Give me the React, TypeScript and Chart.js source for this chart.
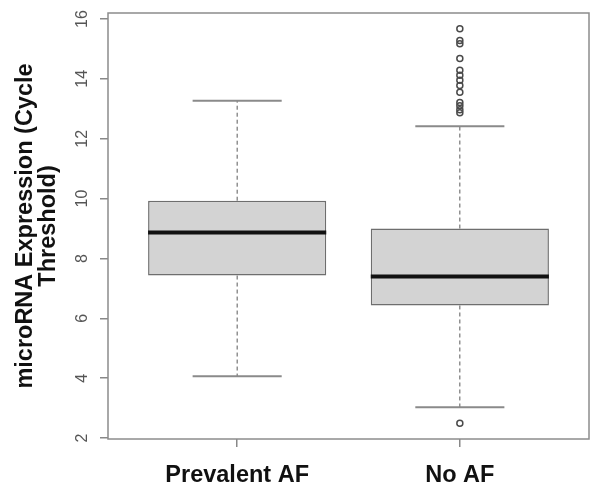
import React, { useEffect, useRef } from "react";
import { Chart, registerables } from "chart.js";

Chart.register(...registerables);

// ---- data ----
const categories = ["Prevalent AF", "No AF"];
const q1 = [7.43, 6.43];
const medians = [8.87, 7.4];
const q3 = [9.93, 9.0];
const whiskerLow = [4.07, 3.03];
const whiskerHigh = [13.27, 12.42];
const outliersPrevalent: number[] = [];
const outliersNoAF = [15.67, 15.28, 15.17, 14.68, 14.29, 14.12, 13.95, 13.78, 13.55, 13.21, 13.1, 12.97, 12.87, 2.5];
const yTicks = [2, 4, 6, 8, 10, 12, 14, 16];
const yTitle = ["microRNA Expression (Cycle", "Threshold)"];

const FONT = "'Liberation Sans', Arial, Helvetica, sans-serif";

const boxPlugin = {
  id: "boxExtras",
  beforeDatasetsDraw(chart: any) {
    const { ctx, scales } = chart;
    const y = scales.y;
    const meta = chart.getDatasetMeta(0);
    ctx.save();
    categories.forEach((_, i) => {
      const bar: any = meta.data[i];
      const cx = bar.x;
      const w = bar.width;
      ctx.strokeStyle = "#5a5a5a";
      ctx.lineWidth = 1;
      ctx.setLineDash([4, 3]);
      ctx.beginPath();
      ctx.moveTo(cx, y.getPixelForValue(q3[i]));
      ctx.lineTo(cx, y.getPixelForValue(whiskerHigh[i]));
      ctx.moveTo(cx, y.getPixelForValue(q1[i]));
      ctx.lineTo(cx, y.getPixelForValue(whiskerLow[i]));
      ctx.stroke();
      ctx.setLineDash([]);
      ctx.strokeStyle = "#8a8a8a";
      ctx.lineWidth = 2;
      ctx.beginPath();
      const hy = y.getPixelForValue(whiskerHigh[i]);
      const ly = y.getPixelForValue(whiskerLow[i]);
      ctx.moveTo(cx - w / 4, hy);
      ctx.lineTo(cx + w / 4, hy);
      ctx.moveTo(cx - w / 4, ly);
      ctx.lineTo(cx + w / 4, ly);
      ctx.stroke();
    });
    ctx.restore();
  },
  afterDatasetsDraw(chart: any) {
    const { ctx, scales, chartArea } = chart;
    const y = scales.y;
    const meta = chart.getDatasetMeta(0);
    ctx.save();
    categories.forEach((_, i) => {
      const bar: any = meta.data[i];
      const my = y.getPixelForValue(medians[i]);
      ctx.strokeStyle = "#111";
      ctx.lineWidth = 4;
      ctx.beginPath();
      ctx.moveTo(bar.x - bar.width / 2, my);
      ctx.lineTo(bar.x + bar.width / 2, my);
      ctx.stroke();
    });
    // frame
    ctx.strokeStyle = "#8c8c8c";
    ctx.lineWidth = 1.5;
    ctx.strokeRect(chartArea.left, chartArea.top, chartArea.right - chartArea.left, chartArea.bottom - chartArea.top);
    // rotated y tick labels
    ctx.fillStyle = "#555";
    ctx.font = `16px ${FONT}`;
    ctx.textAlign = "center";
    ctx.textBaseline = "middle";
    yTicks.forEach((v) => {
      const py = y.getPixelForValue(v);
      ctx.save();
      ctx.translate(chartArea.left - 25, py);
      ctx.rotate(-Math.PI / 2);
      ctx.fillText(String(v), 0, 0);
      ctx.restore();
    });
    ctx.restore();
  },
};

export default function App() {
  const ref = useRef<HTMLCanvasElement>(null);
  useEffect(() => {
    const outlierPoints: { x: number; y: number }[] = [];
    [outliersPrevalent, outliersNoAF].forEach((arr, i) => arr.forEach((v) => outlierPoints.push({ x: i + 1, y: v })));
    const chart = new Chart(ref.current as HTMLCanvasElement, {
      type: "bar",
      data: {
        datasets: [
          {
            type: "bar",
            data: categories.map((_, i) => ({ x: i + 1, y: [q1[i], q3[i]] })) as any,
            backgroundColor: "#d3d3d3",
            borderColor: "#6e6e6e",
            borderWidth: 1.5,
            borderSkipped: false,
            barPercentage: 0.8,
            categoryPercentage: 1,
          } as any,
          {
            type: "scatter",
            data: outlierPoints,
            pointRadius: 3,
            pointBorderWidth: 1.5,
            borderColor: "#4a4a4a",
            backgroundColor: "rgba(0,0,0,0)",
            showLine: false,
          } as any,
        ],
      },
      options: {
        responsive: false,
        animation: false,
        layout: { padding: { top: 13, right: 11, left: 0, bottom: 0 } },
        plugins: { legend: { display: false }, tooltip: { enabled: false } },
        scales: {
          x: {
            type: "linear",
            min: 0.42,
            max: 2.58,
            offset: false,
            bounds: "data",
            afterBuildTicks: (s: any) => {
              s.ticks = categories.map((_, i) => ({ value: i + 1 }));
            },
            afterFit: (s: any) => {
              s.height = 56;
            },
            ticks: {
              callback: (v: any) => categories[Math.round(Number(v)) - 1],
              font: { family: FONT, size: 23.5, weight: "bold" },
              color: "#111",
              padding: 14,
              maxRotation: 0,
              autoSkip: false,
            },
            grid: { display: true, drawOnChartArea: false, drawTicks: true, tickLength: 8, color: "#888", lineWidth: 1.5, offset: false },
            border: { display: false },
          } as any,
          y: {
            type: "linear",
            min: 1.97,
            max: 16.2,
            bounds: "data",
            afterBuildTicks: (s: any) => {
              s.ticks = yTicks.map((v) => ({ value: v }));
            },
            afterFit: (s: any) => {
              s.width = 108;
            },
            ticks: { display: false },
            grid: { display: true, drawOnChartArea: false, drawTicks: true, tickLength: 8, color: "#888", lineWidth: 1.5 },
            border: { display: false },
            title: {
              display: true,
              text: yTitle,
              font: { family: FONT, size: 23.5, weight: "bold", lineHeight: 1.0 },
              color: "#111",
              padding: { top: 13.5, bottom: 0 },
            },
          } as any,
        },
      },
      plugins: [boxPlugin],
    });
    return () => chart.destroy();
  }, []);
  return (
    <div style={{ position: "fixed", left: 0, top: 0, width: 600, height: 495, background: "#fff" }}>
      <canvas ref={ref} width={600} height={495} style={{ display: "block" }} />
    </div>
  );
}
